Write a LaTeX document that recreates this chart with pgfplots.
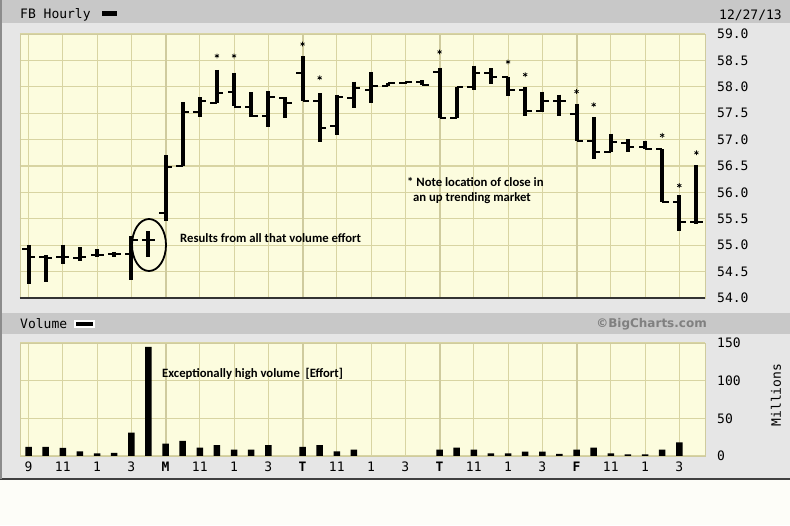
\documentclass[border=0pt]{standalone}
\usepackage{pgfplots}
\pgfplotsset{compat=1.18}
\usepackage{pgfplotstable}
\usepackage{fontspec}
\setmainfont{Carlito}
\newfontfamily\monofont{DejaVu Sans Mono}
\newfontfamily\bcfont{DejaVu Sans}

\definecolor{plotbg}{HTML}{FCFCDE}
\definecolor{gridc}{HTML}{D8D4A2}
\definecolor{gridd}{HTML}{CFCB9E}
\definecolor{panel}{HTML}{E6E6E6}
\definecolor{band}{HTML}{C8C8C8}
\definecolor{pagebg}{HTML}{FDFDF8}

% hourly OHLC: slot, open, high, low, close
\pgfplotstableread{
i o h l c
0 54.92 55.00 54.26 54.78
1 54.78 54.81 54.31 54.76
2 54.77 55.01 54.64 54.78
3 54.76 54.96 54.70 54.78
4 54.81 54.92 54.78 54.81
5 54.83 54.88 54.78 54.83
6 54.83 55.18 54.35 55.10
7 55.10 55.26 54.78 55.10
8 55.61 56.70 55.45 56.49
9 56.50 57.71 56.50 57.52
10 57.52 57.80 57.43 57.74
11 57.70 58.32 57.69 57.88
12 57.90 58.27 57.63 57.62
13 57.62 57.90 57.43 57.45
14 57.45 57.92 57.24 57.80
15 57.78 57.80 57.40 57.70
16 58.26 58.58 57.74 57.74
17 57.74 57.88 56.95 57.22
18 57.25 57.84 57.08 57.80
19 57.78 58.10 57.60 57.97
20 57.94 58.28 57.70 58.02
21 58.02 58.08 58.02 58.07
22 58.07 58.10 58.06 58.09
23 58.09 58.12 58.04 58.04
24 58.28 58.36 57.41 57.41
25 57.41 57.99 57.41 57.99
26 57.99 58.40 57.94 58.26
27 58.26 58.35 58.06 58.18
28 58.18 58.18 57.82 57.94
29 57.94 57.99 57.45 57.55
30 57.55 57.91 57.53 57.74
31 57.74 57.85 57.45 57.74
32 57.49 57.68 56.97 56.97
33 56.97 57.42 56.64 56.77
34 56.77 57.11 56.76 56.95
35 56.94 57.01 56.77 56.86
36 56.86 56.98 56.82 56.82
37 56.82 56.82 55.82 55.82
38 55.82 55.95 55.27 55.44
39 55.44 56.51 55.40 55.44
}\ohlc

% asterisk annotations (slot, price level)
\pgfplotstableread{
i y
11 58.585
12 58.585
16 58.81
17 58.17
24 58.66
28 58.47
29 58.23
32 57.91
33 57.66
37 57.08
38 56.13
39 56.75
}\stars

% hourly volume, millions
\pgfplotstableread{
i v
0 12
1 12
2 10.7
3 6.3
4 3.6
5 4
6 31
7 145
8 16.5
9 20
10 11
11 14.3
12 8.5
13 8.5
14 14.3
16 12
17 14.3
18 6.3
19 8.5
24 8.5
25 11
26 8.5
27 3.6
28 3.6
29 5.8
30 5.8
31 2.7
32 8.5
33 11
34 3.6
35 2.2
36 2.2
37 8.5
38 18
}\vol

\pgfplotsset{
  bcaxis/.style={
    scale only axis, width=685pt, anchor=south west,
    xmin=-0.5, xmax=39.5,
    axis background/.style={fill=plotbg},
    grid=major, grid style={gridc, line width=1.1pt},
    major tick length=0pt,
    axis line style={draw=gridd, line width=0.8pt},
    xtick={0,2,...,38},
    extra x ticks={8,16,24,32}, extra x tick labels={},
    extra x tick style={grid style={gridd, line width=2pt}},
    yticklabel pos=right,
    yticklabel style={anchor=west, inner sep=0pt, xshift=12pt,
      font=\monofont\fontsize{13}{13}\selectfont},
    /pgf/number format/assume math mode=true,
  },
}

\begin{document}
\begin{tikzpicture}
\useasboundingbox (0,0) rectangle (790pt,525pt);
\fill[pagebg] (0,0) rectangle (790pt,525pt);
\fill[panel] (0,46pt) rectangle (790pt,525pt);
\fill[band] (0,502pt) rectangle (790pt,525pt);
\fill[band] (0,191pt) rectangle (790pt,212pt);
\draw[black!75, line width=2pt] (0,46pt) -- (790pt,46pt);
\draw[black!45, line width=1.5pt] (0.75pt,46pt) -- (0.75pt,525pt);

% header
\node[anchor=west, inner sep=0pt, font=\monofont\fontsize{13}{13}\selectfont] at (20pt,510pt) {FB Hourly};
\fill[black] (102pt,509pt) rectangle (117pt,514pt);
\node[anchor=east, inner sep=0pt, font=\monofont\fontsize{13}{13}\selectfont] at (782pt,510pt) {12/27/13};
\node[anchor=west, inner sep=0pt, font=\monofont\fontsize{13}{13}\selectfont] at (20pt,201.5pt) {Volume};
\fill[white] (74pt,197pt) rectangle (95pt,205pt);
\fill[black] (76pt,199pt) rectangle (93pt,203pt);
\node[anchor=east, inner sep=0pt, font=\bcfont\bfseries\fontsize{12}{12}\selectfont, text=black!50] at (707pt,201pt) {\textcopyright BigCharts.com};

% price panel
\begin{axis}[bcaxis, at={(20pt,227pt)}, height=264pt,
  ymin=54, ymax=59,
  ytick={54,54.5,55,55.5,56,56.5,57,57.5,58,58.5,59},
  yticklabel style={/pgf/number format/.cd, fixed, fixed zerofill, precision=1},
  xticklabels={}, clip=false]
\addplot[black, line width=4pt, quiver={u=0, v=\thisrow{l}-\thisrow{h}}] table[x=i, y=h] {\ohlc};
\addplot[black, line width=2pt, quiver={u=-0.38, v=0}] table[x=i, y=o] {\ohlc};
\addplot[black, line width=2pt, quiver={u=0.38, v=0}] table[x=i, y=c] {\ohlc};
\addplot[only marks, mark=asterisk, mark size=2.4pt, black, line width=0.7pt] table[x=i, y=y] {\stars};
\draw[black!80, line width=1.5pt] (rel axis cs:0,0) -- (rel axis cs:1,0);
\end{axis}

% volume panel
\begin{axis}[bcaxis, at={(20pt,69pt)}, height=113pt,
  ymin=0, ymax=150, ytick={0,50,100,150},
  xticklabels={9,11,1,3,\textbf{M},11,1,3,\textbf{T},11,1,3,\textbf{T},11,1,3,\textbf{F},11,1,3},
  xticklabel style={anchor=north, inner sep=0pt, yshift=-6pt,
    font=\monofont\fontsize{13}{13}\selectfont}]
\addplot[ybar, fill=black, draw=none, bar width=6.5pt] table[x=i, y=v] {\vol};
\end{axis}

\node[rotate=90, inner sep=0pt, font=\monofont\fontsize{13}{13}\selectfont] at (776pt,130pt) {Millions};

% annotations
\draw[black, line width=1.8pt] (149pt,280pt) ellipse [x radius=17pt, y radius=26pt];
\begin{scope}[every node/.style={anchor=west, inner sep=0pt, font=\bfseries\fontsize{12.7}{14}\selectfont}]
\node at (180pt,287pt) {Results from all that volume effort};
\node at (407pt,343pt) {* Note location of close in};
\node at (413pt,327pt) {an up trending market};
\node at (162pt,151pt) {Exceptionally high volume~~[Effort]};
\end{scope}
\end{tikzpicture}
\end{document}
